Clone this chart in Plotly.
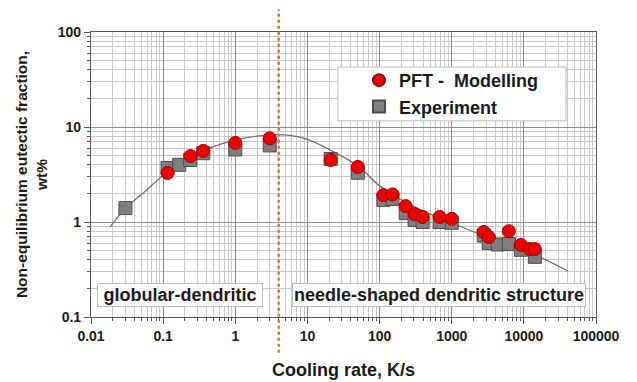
import math
import plotly.graph_objects as go

# ---- data ----
model_x = [0.115, 0.24, 0.36, 1.0, 3.0, 21, 50, 113, 151, 230, 306, 395, 680, 1000, 2780, 3260, 6190, 9090, 12100, 14200]
model_y = [3.28, 4.95, 5.6, 6.8, 7.6, 4.5, 3.8, 1.92, 1.95, 1.47, 1.21, 1.13, 1.13, 1.08, 0.785, 0.695, 0.80, 0.573, 0.52, 0.52]

exp_x = [0.03, 0.115, 0.167, 0.237, 0.36, 1.0, 3.0, 21, 50, 113, 151, 230, 306, 395, 680, 1000, 2780, 3260, 4350, 6190, 9090, 14200]
exp_y = [1.40, 3.7, 4.0, 4.5, 5.3, 5.8, 6.4, 4.6, 3.3, 1.71, 1.75, 1.24, 1.05, 1.0, 1.0, 0.98, 0.72, 0.60, 0.58, 0.586, 0.51, 0.43]

fit_x = [0.0184, 0.03, 0.05, 0.1, 0.2, 0.5, 1, 2, 3.5, 6, 10, 20, 50, 100, 300, 1000, 3000, 10000, 40800]
fit_y = [0.885, 1.4, 1.95, 3.1, 4.7, 6.2, 7.3, 8.0, 8.3, 8.1, 7.4, 5.8, 3.9, 2.4, 1.45, 0.98, 0.70, 0.51, 0.305]

divider_x = 4.0

x_tickvals = [0.01, 0.1, 1, 10, 100, 1000, 10000, 100000]
x_ticktext = ["0.01", "0.1", "1", "10", "100", "1000", "10000", "100000"]
y_tickvals = [0.1, 1, 10, 100]
y_ticktext = ["0.1", "1", "10", "100"]

region_labels = ["globular-dendritic", "needle-shaped dendritic structure"]

FONT = "Liberation Sans, Arial, sans-serif"
TXT = "#1a1a1a"

fig = go.Figure()

fig.add_trace(go.Scatter(
    x=fit_x, y=fit_y, mode="lines", line=dict(color="#707070", width=1.3, shape="spline", smoothing=1.0),
    showlegend=False, hoverinfo="skip"))

fig.add_trace(go.Scatter(
    x=exp_x, y=exp_y, mode="markers", name="Experiment",
    marker=dict(symbol="square", size=13, color="#7f7f7f", line=dict(color="#4d4d4d", width=1))))

fig.add_trace(go.Scatter(
    x=model_x, y=model_y, mode="markers", name="PFT -  Modelling",
    marker=dict(symbol="circle", size=13, color="#ee0000", line=dict(color="#990000", width=1))))

axis_common = dict(
    type="log", automargin=False,
    showline=True, linecolor="#555555", linewidth=1.2, mirror=True,
    showgrid=True, gridcolor="#8c8c8c", gridwidth=1,
    ticks="outside", ticklen=6, tickcolor="#555555",
    tickfont=dict(family=FONT, size=14, color=TXT, weight="bold"),
    zeroline=False,
    minor=dict(dtick="D1", showgrid=True, gridcolor="#c8c8c8", gridwidth=1,
               ticks="outside", ticklen=3, tickcolor="#555555"),
)

fig.update_xaxes(
    **axis_common,
    range=[math.log10(0.01), math.log10(100000)],
    tickmode="array", tickvals=x_tickvals, ticktext=x_ticktext,
    title=dict(text="Cooling rate, K/s", font=dict(family=FONT, size=18, color=TXT, weight="bold"), standoff=20),
)
fig.update_yaxes(
    **axis_common,
    range=[math.log10(0.1), math.log10(100)],
    tickmode="array", tickvals=y_tickvals, ticktext=y_ticktext,
    title=dict(text="Non-equilibrium eutectic fraction,<br>wt%", font=dict(family=FONT, size=15.5, color=TXT, weight="bold"), standoff=6),
)

fig.add_shape(type="line", xref="x", yref="paper", x0=divider_x, x1=divider_x, y0=-0.125, y1=1.08,
              line=dict(color="#e8702a", width=2.5, dash="dot"), layer="above")

# legend frame
fig.add_shape(type="rect", xref="paper", yref="paper", x0=0.489, x1=0.9406, y0=0.688, y1=0.877,
              fillcolor="white", line=dict(color="#bbbbbb", width=1), layer="above")

fig.add_annotation(x=math.log10(0.01), y=math.log10(0.1), xref="x", yref="y",
                   text=region_labels[0], showarrow=False, xanchor="left", yanchor="bottom",
                   xshift=6, yshift=10, width=162, align="center",
                   font=dict(family=FONT, size=18, color=TXT, weight="bold"),
                   bgcolor="white", bordercolor="#bbbbbb", borderwidth=1, borderpad=1)
fig.add_annotation(x=math.log10(100000), y=math.log10(0.1), xref="x", yref="y",
                   text=region_labels[1], showarrow=False, xanchor="right", yanchor="bottom",
                   xshift=-10, yshift=10, width=290, align="center",
                   font=dict(family=FONT, size=18, color=TXT, weight="bold"),
                   bgcolor="white", bordercolor="#bbbbbb", borderwidth=1, borderpad=1)

fig.update_layout(
    width=637, height=382,
    margin=dict(l=91, r=41, t=32, b=65),
    paper_bgcolor="white", plot_bgcolor="white",
    showlegend=True,
    legend=dict(x=0.5307, y=0.895, xanchor="left", yanchor="top",
                bgcolor="rgba(0,0,0,0)", borderwidth=0,
                font=dict(family=FONT, size=18, color=TXT, weight="bold"),
                traceorder="reversed", itemsizing="constant"),
)

fig.write_html("out.html")
